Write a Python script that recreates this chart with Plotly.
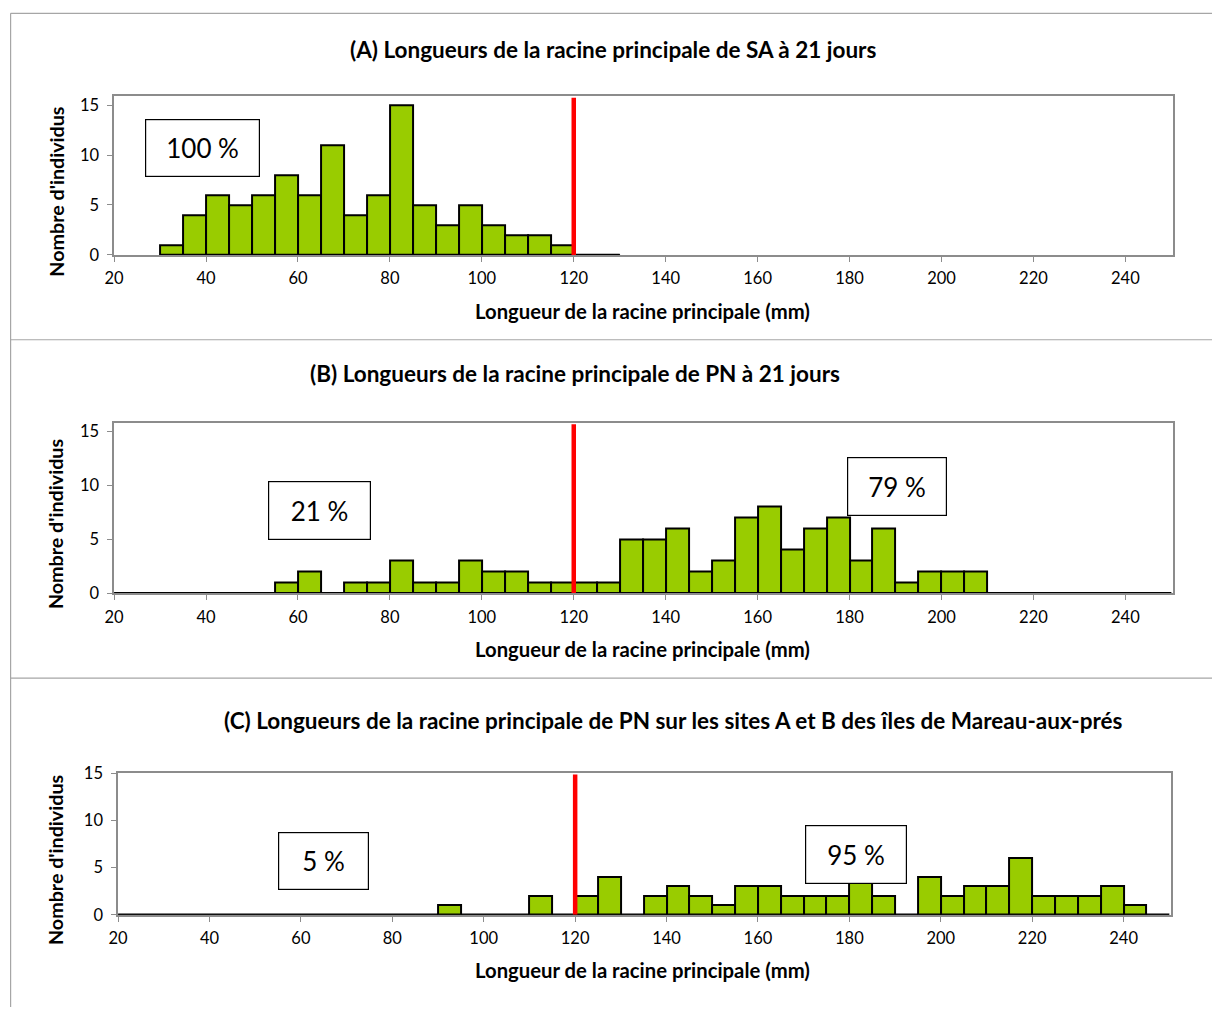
import plotly.graph_objects as go

# ---------------- data ----------------
BIN_W = 5
starts_a = [30, 35, 40, 45, 50, 55, 60, 65, 70, 75, 80, 85, 90, 95, 100, 105, 110, 115, 120, 125]
counts_a = [1, 4, 6, 5, 6, 8, 6, 11, 4, 6, 15, 5, 3, 5, 3, 2, 2, 1, 0, 0]

starts_b = [20, 25, 30, 35, 40, 45, 50, 55, 60, 65, 70, 75, 80, 85, 90, 95, 100, 105, 110, 115,
            120, 125, 130, 135, 140, 145, 150, 155, 160, 165, 170, 175, 180, 185, 190, 195,
            200, 205, 210, 215, 220, 225, 230, 235, 240, 245]
counts_b = [0, 0, 0, 0, 0, 0, 0, 1, 2, 0, 1, 1, 3, 1, 1, 3, 2, 2, 1, 1,
            1, 1, 5, 5, 6, 2, 3, 7, 8, 4, 6, 7, 3, 6, 1, 2,
            2, 2, 0, 0, 0, 0, 0, 0, 0, 0]

starts_c = [20, 25, 30, 35, 40, 45, 50, 55, 60, 65, 70, 75, 80, 85, 90, 95, 100, 105, 110, 115,
            120, 125, 130, 135, 140, 145, 150, 155, 160, 165, 170, 175, 180, 185, 190, 195,
            200, 205, 210, 215, 220, 225, 230, 235, 240, 245]
counts_c = [0, 0, 0, 0, 0, 0, 0, 0, 0, 0, 0, 0, 0, 0, 1, 0, 0, 0, 2, 0,
            2, 4, 0, 2, 3, 2, 1, 3, 3, 2, 2, 2, 4, 2, 0, 4,
            2, 3, 3, 6, 2, 2, 2, 3, 1, 0]

titles = [
    "(A) Longueurs de la racine principale de SA à 21 jours",
    "(B) Longueurs de la racine principale de PN à 21 jours",
    "(C) Longueurs de la racine principale de PN sur les sites A et B des îles de Mareau-aux-prés",
]
x_title = "Longueur de la racine principale (mm)"
y_title = "Nombre d'individus"
threshold = 120
x_ticks = [20, 40, 60, 80, 100, 120, 140, 160, 180, 200, 220, 240]
y_ticks = [0, 5, 10, 15]
pct_labels = [["100 %"], ["21 %", "79 %"], ["5 %", "95 %"]]

# ---------------- layout helpers ----------------
W, H = 1212, 1017
# the captured page shows a small offset/scale; compensate so marks land in place
OX, SX = 8.8, 0.993
OY, SY = 8.7, 0.982
FONT = "Lato, Carlito, Calibri, sans-serif"
GREEN = "#99CC00"
GRAY = "#8C8C8C"

def px(x):
    return max(0.0005, min(1.0, ((x - OX) / SX) / W))

def py(y):
    return max(0.0, min(1.0, 1 - ((y - OY) / SY) / H))

panels = [
    dict(starts=starts_a, counts=counts_a, x0=113, x1=1173, ytop=95, ybot=254, ymax=15.9,
         title_y=48, title_x=612.5, xt_y=310, yt_x=55,
         boxes=[(202, 146.5, 114, 57)]),
    dict(starts=starts_b, counts=counts_b, x0=113, x1=1173, ytop=422, ybot=593, ymax=15.8,
         title_y=373, title_x=574.5, xt_y=649, yt_x=55,
         boxes=[(319, 510, 102, 58), (896.5, 486, 99, 58)]),
    dict(starts=starts_c, counts=counts_c, x0=117, x1=1171, ytop=773, ybot=915, ymax=15.0,
         title_y=720, title_x=673.5, xt_y=970, yt_x=55,
         boxes=[(323, 861.5, 90, 57), (855.5, 855, 101, 58)]),
]

fig = go.Figure()
annotations = []
shapes = []

for i, p in enumerate(panels):
    xa = "x" if i == 0 else f"x{i+1}"
    ya = "y" if i == 0 else f"y{i+1}"
    centers = [s + BIN_W / 2 for s in p["starts"]]
    fig.add_trace(go.Bar(
        x=centers, y=p["counts"], width=BIN_W,
        marker=dict(color=GREEN, line=dict(color="black", width=2)),
        xaxis=xa, yaxis=ya, showlegend=False, hoverinfo="x+y",
    ))
    # baseline across all bins (zero-height bins)
    fig.add_trace(go.Scatter(
        x=[p["starts"][0], p["starts"][-1] + BIN_W], y=[0, 0], mode="lines",
        line=dict(color="black", width=2.5), xaxis=xa, yaxis=ya,
        showlegend=False, hoverinfo="skip",
    ))
    # threshold line
    fig.add_trace(go.Scatter(
        x=[threshold, threshold], y=[0, p["ymax"] * 0.99], mode="lines",
        line=dict(color="#FF0000", width=4.5), xaxis=xa, yaxis=ya,
        showlegend=False, hoverinfo="skip",
    ))
    axis_common = dict(showgrid=False, zeroline=False, showline=True, linecolor=GRAY,
                       linewidth=1.5, mirror=True, ticks="outside", tickcolor=GRAY,
                       ticklen=5, tickwidth=1,
                       tickfont=dict(family=FONT, size=16.5, color="black"))
    fig.update_layout(**{
        ("xaxis" if i == 0 else f"xaxis{i+1}"): dict(
            domain=[px(p["x0"]), px(p["x1"])], range=[20, 250.3], tickvals=x_ticks,
            anchor=ya, ticklabelstandoff=3, **axis_common),
        ("yaxis" if i == 0 else f"yaxis{i+1}"): dict(
            domain=[py(p["ybot"]), py(p["ytop"])], range=[0, p["ymax"]], tickvals=y_ticks,
            anchor=xa, ticklabelstandoff=5, **axis_common),
    })
    annotations.append(dict(text=f"<b>{titles[i]}</b>", x=px(p["title_x"]), y=py(p["title_y"]),
                            xref="paper", yref="paper", showarrow=False,
                            font=dict(family=FONT, size=22.5, color="black"),
                            xanchor="center", yanchor="middle"))
    annotations.append(dict(text=f"<b>{x_title}</b>", x=px(642.5), y=py(p["xt_y"]),
                            xref="paper", yref="paper", showarrow=False,
                            font=dict(family=FONT, size=20.3, color="black"),
                            xanchor="center", yanchor="middle"))
    annotations.append(dict(text=f"<b>{y_title}</b>", x=px(p["yt_x"]),
                            y=py((p["ytop"] + p["ybot"]) / 2 + 16),
                            xref="paper", yref="paper", showarrow=False, textangle=-90,
                            font=dict(family=FONT, size=19.7, color="black"),
                            xanchor="center", yanchor="middle"))
    for lbl, (cx, cy, bw, bh) in zip(pct_labels[i], p["boxes"]):
        annotations.append(dict(text=lbl, x=px(cx), y=py(cy), xref="paper", yref="paper",
                                showarrow=False, font=dict(family=FONT, size=26, color="black"),
                                bgcolor="white", bordercolor="black", borderwidth=1.2,
                                borderpad=0, width=bw / SX - 2, height=bh / SY - 2,
                                xanchor="center", yanchor="middle"))

# outer frame lines
frame_color = "#A6A6A6"
shapes.append(dict(type="line", xref="paper", yref="paper", x0=px(9), x1=px(9),
                   y0=py(12), y1=0, line=dict(color=frame_color, width=1.2)))
for yy in [12, 339, 678]:
    shapes.append(dict(type="line", xref="paper", yref="paper", x0=px(9), x1=1,
                       y0=py(yy), y1=py(yy), line=dict(color=frame_color, width=1.2)))

fig.update_layout(
    autosize=True, margin=dict(l=0, r=0, t=0, b=0),
    paper_bgcolor="white", plot_bgcolor="white", bargap=0,
    annotations=annotations, shapes=shapes,
    font=dict(family=FONT),
)

fig.write_html(
    "out.html",
    config={"displayModeBar": False, "responsive": True},
    default_width="100vw",
    default_height="100vh",
    post_script=(
        "document.documentElement.style.margin='0';"
        "document.documentElement.style.overflow='hidden';"
        "document.body.style.margin='0';"
        "document.body.style.overflow='hidden';"
        "Plotly.Plots.resize(document.getElementById('{plot_id}'));"
    ),
)
